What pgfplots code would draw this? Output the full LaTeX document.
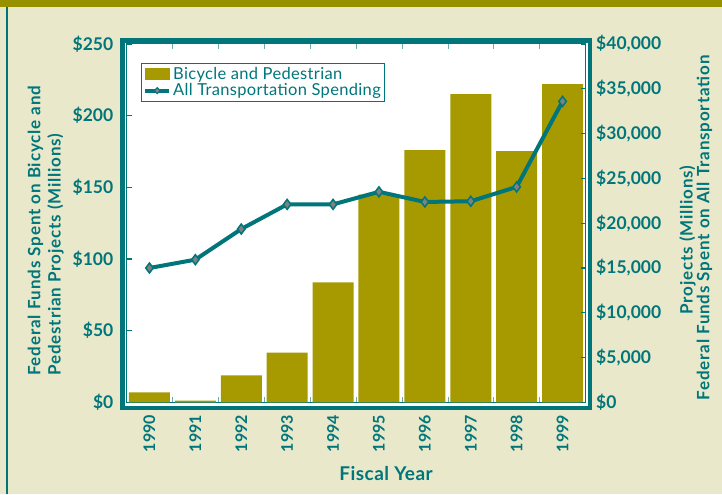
\documentclass[border=0pt]{standalone}
\usepackage{fontspec}
\setmainfont{Lato}
\newfontfamily\labfam[LetterSpace=5]{Lato}
\newfontfamily\legfam[LetterSpace=2]{Lato}
\newfontfamily\xlabfam[LetterSpace=2.5]{Lato}
\usepackage{pgfplots}
\pgfplotsset{compat=1.18}
\definecolor{teal0}{HTML}{00767A}
\definecolor{olivebar}{HTML}{A69A00}
\definecolor{oliveband}{HTML}{979100}
\definecolor{bg}{HTML}{E9E8CB}
\definecolor{mgray}{HTML}{808080}
\newcommand{\tickfont}{\fontsize{17.5}{20}\selectfont\bfseries}
\newcommand{\yearfont}{\fontsize{16}{19}\selectfont\bfseries}
\newcommand{\labfont}{\labfam\fontsize{17}{20}\selectfont\bfseries}
\begin{document}
\begin{tikzpicture}[x=1pt,y=1pt]
\fill[bg] (0,0) rectangle (722,494);
\fill[oliveband] (0,486.7) rectangle (722,494);
\draw[teal0, line width=1.8pt] (7,0) -- (7,486.7);
\fill[white] (122.3,453.2) rectangle (590,86);
\draw[teal0, line width=4.7pt] (122.3,453.2) rectangle (590,86);

\begin{axis}[
  at={(126.5pt,91.6pt)}, anchor=south west,
  width=459pt, height=358.4pt, scale only axis,
  xmin=-0.5, xmax=9.5, ymin=0, ymax=250,
  axis line style={teal0, line width=1pt},
  tick align=inside,
  ytick={0,50,...,250}, ytick pos=left,
  yticklabel={\$\pgfmathprintnumber{\tick}},
  yticklabel style={font=\tickfont, text=teal0, anchor=east, inner xsep=13pt},
  ytick style={teal0, line width=1.3pt},
  major tick length=5pt,
  xtick={0,...,9},
  xticklabels={1990,1991,1992,1993,1994,1995,1996,1997,1998,1999},
  xtick style={draw=none},
  xticklabel style={font=\yearfont, text=teal0, rotate=90, anchor=east, inner xsep=12.5pt},
  extra x ticks={0.5,1.5,...,8.5},
  extra x tick labels={},
  extra x tick style={xtick style={draw=teal0!60, line width=0.6pt}},
  /pgf/number format/assume math mode=true,
]
\addplot[ybar, bar width=41pt, fill=olivebar, draw=none] coordinates {
  (0,7) (1,1.3) (2,18.8) (3,34.8) (4,83.8) (5,145) (6,176) (7,215) (8,175.3) (9,222)
};
\end{axis}

\begin{axis}[
  at={(126.5pt,91.6pt)}, anchor=south west,
  width=459pt, height=358.4pt, scale only axis,
  xmin=-0.5, xmax=9.5, ymin=0, ymax=40000,
  axis x line=none,
  axis y line*=right,
  axis line style={teal0, line width=1pt},
  tick align=inside,
  ytick={0,5000,...,40000},
  scaled y ticks=false,
  yticklabel={\$\pgfmathprintnumber{\tick}},
  /pgf/number format/1000 sep={,},
  /pgf/number format/assume math mode=true,
  yticklabel style={font=\tickfont, text=teal0, anchor=west, inner xsep=10.5pt},
  ytick style={teal0, line width=1.3pt},
  major tick length=5pt,
  legend cell align=left,
  legend style={at={(axis description cs:0.031,0.948)}, anchor=north west,
    draw=teal0, line width=1pt, fill=white, text=teal0,
    font=\legfam\fontsize{16.5}{19}\selectfont, inner sep=2pt,
    row sep=-1pt},
]
\addlegendimage{legend image code/.code={\fill[olivebar] (0pt,-5.5pt) rectangle (24pt,5.5pt);}}
\addlegendentry{Bicycle and Pedestrian}
\addplot[teal0, line width=4pt, mark=diamond*, mark size=5pt,
  mark options={fill=mgray, draw=teal0, line width=1.5pt},
  legend image code/.code={
    \draw[teal0, line width=4pt] (0pt,0pt) -- (24pt,0pt);
    \draw[teal0, fill=mgray, line width=1pt] (12pt,-3pt) -- (15pt,0pt) -- (12pt,3pt) -- (9pt,0pt) -- cycle;
  }] coordinates {
  (0,15000) (1,15930) (2,19350) (3,22100) (4,22100) (5,23500) (6,22370) (7,22450) (8,24050) (9,33600)
};
\addlegendentry{All Transportation Spending}
\end{axis}

\node[rotate=90, anchor=west, inner sep=0pt, text=teal0, font=\labfont] at (35.5,118) {Federal Funds Spent on Bicycle and};
\node[rotate=90, anchor=west, inner sep=0pt, text=teal0, font=\labfont] at (55.5,118) {Pedestrian Projects (Millions)};
\node[rotate=90, inner sep=0pt, text=teal0, font=\labfont] at (687.5,254) {Projects (Millions)};
\node[rotate=90, inner sep=0pt, text=teal0, font=\labfont] at (704.5,266) {Federal Funds Spent on All Transportation};
\node[inner sep=0pt, text=teal0, font=\xlabfam\fontsize{19}{22}\selectfont\bfseries] at (386,20.5) {Fiscal Year};
\end{tikzpicture}
\end{document}
